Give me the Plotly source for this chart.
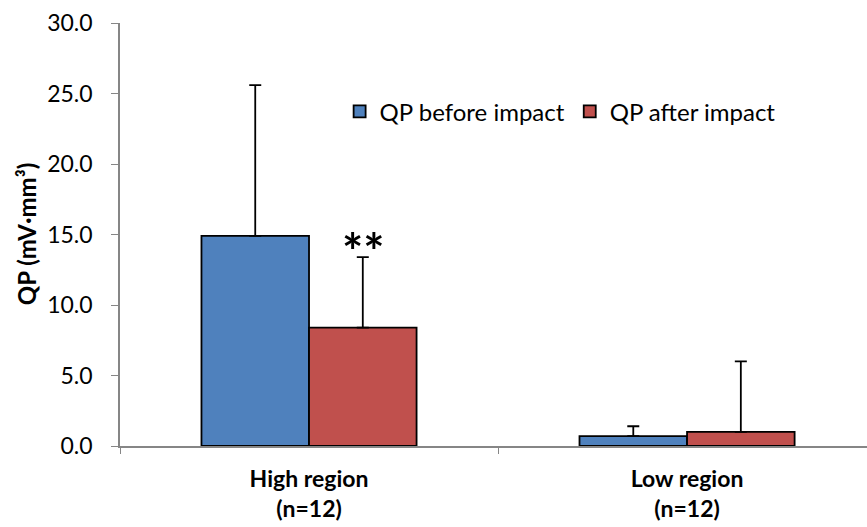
import plotly.graph_objects as go

categories = ["High region<br>(n=12)", "Low region<br>(n=12)"]
before_vals = [14.9, 0.7]
before_err = [10.7, 0.7]
after_vals = [8.4, 1.0]
after_err = [5.0, 5.0]
series_names = ["QP before impact", "QP after impact"]
y_ticks = [0, 5, 10, 15, 20, 25, 30]
y_tick_labels = ["0.0", "5.0", "10.0", "15.0", "20.0", "25.0", "30.0"]

FONT = "Lato, 'Open Sans', sans-serif"

fig = go.Figure()
fig.add_trace(go.Bar(
    x=categories, y=before_vals, name=series_names[0],
    marker=dict(color="#4F81BD", line=dict(color="black", width=1.8)),
    error_y=dict(type="data", array=before_err, symmetric=False, arrayminus=[0, 0],
                 color="black", thickness=1.8, width=6),
))
fig.add_trace(go.Bar(
    x=categories, y=after_vals, name=series_names[1],
    marker=dict(color="#C0504D", line=dict(color="black", width=1.8)),
    error_y=dict(type="data", array=after_err, symmetric=False, arrayminus=[0, 0],
                 color="black", thickness=1.8, width=6),
))

fig.add_annotation(x=categories[0], y=after_vals[0] + after_err[0], xref="x", yref="y",
                   xshift=54, yshift=-26, text="<b>**</b>", showarrow=False,
                   font=dict(family=FONT, size=50, color="black"), yanchor="bottom")

fig.add_annotation(x=-0.125, y=0.5, xref="paper", yref="paper", textangle=-90,
                   text="<b>QP (mV·mm³)</b>", showarrow=False,
                   font=dict(family=FONT, size=24, color="black"),
                   xanchor="center", yanchor="middle")

fig.update_layout(
    width=867, height=527,
    margin=dict(l=120, r=0, t=23, b=81),
    paper_bgcolor="white", plot_bgcolor="white",
    barmode="group", bargap=0.431, bargroupgap=0,
    font=dict(family=FONT, size=17, color="black"),
    legend=dict(orientation="h", x=0.294, y=0.79, xanchor="left", yanchor="middle",
                font=dict(family=FONT, size=24, color="black"),
                bgcolor="rgba(0,0,0,0)", traceorder="normal"),
    showlegend=True,
)
fig.update_xaxes(
    range=[-0.5, 1.476], showline=True, linecolor="#868686", linewidth=1.5,
    ticks="outside", tickson="boundaries", ticklen=6, tickcolor="#868686",
    tickfont=dict(family=FONT, size=23, color="black"), showgrid=False,
    automargin=False, ticklabelstandoff=12,
    tickmode="array", tickvals=categories,
    ticktext=["<b>High region</b><br><b>(n=12)</b>", "<b>Low region</b><br><b>(n=12)</b>"],
)
fig.update_yaxes(
    range=[0, 30], tickvals=y_ticks, ticktext=y_tick_labels,
    showline=True, linecolor="#868686", linewidth=1.5,
    ticks="outside", ticklen=7, tickcolor="#868686", showgrid=False, zeroline=False,
    tickfont=dict(family=FONT, size=23, color="black"), automargin=False,
    ticklabelstandoff=14,
)

fig.write_html("out.html")
